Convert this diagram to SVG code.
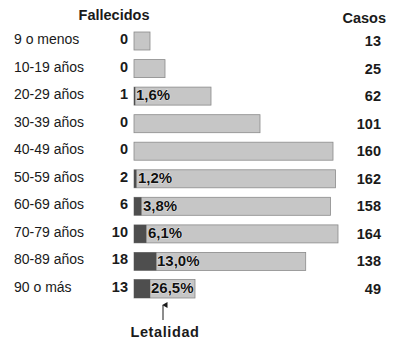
<svg xmlns="http://www.w3.org/2000/svg" width="398" height="343" viewBox="0 0 398 343">
<style>
text{font-family:"Liberation Sans",Arial,sans-serif;fill:#1a1a1a}
.lab{font-size:14px}
.num{font-size:14.5px;font-weight:bold}
.hd{font-size:14.5px;font-weight:bold}
.pct{font-size:15px;font-weight:bold;fill:#111;stroke:#fff;stroke-width:0.6;paint-order:stroke}
.bar{fill:#c6c6c6;stroke:#8a8a8a;stroke-width:0.8}
.dk{fill:#4e4e4e}
</style>
<defs>
<marker id="ah" viewBox="0 0 8 8" refX="4" refY="1" markerWidth="6" markerHeight="6" orient="auto-start-reverse">
<path d="M0,7 L4,0 L8,7 Z" fill="#1a1a1a"/>
</marker>
</defs>
<rect width="398" height="343" fill="#fff"/>
<text class="hd" x="114" y="20" text-anchor="middle">Fallecidos</text>
<text class="hd" x="386" y="23" text-anchor="end">Casos</text>

<g id="row-0"><text class="lab" x="14" y="44">9 o menos</text><text class="num" x="128" y="44" text-anchor="end">0</text><rect class="bar" x="134" y="32" width="16" height="18"/><text class="num" x="381" y="46" text-anchor="end">13</text></g>
<g id="row-1"><text class="lab" x="14" y="71.6">10-19 años</text><text class="num" x="128" y="71.6" text-anchor="end">0</text><rect class="bar" x="134" y="59.6" width="31" height="18"/><text class="num" x="381" y="73.6" text-anchor="end">25</text></g>
<g id="row-2"><text class="lab" x="14" y="99.1">20-29 años</text><text class="num" x="128" y="99.1" text-anchor="end">1</text><rect class="bar" x="134" y="87.1" width="77" height="18"/><rect class="dk" x="134" y="87.1" width="1.3" height="18"/><text class="pct" x="136" y="100">1,6%</text><text class="num" x="381" y="101.1" text-anchor="end">62</text></g>
<g id="row-3"><text class="lab" x="14" y="126.7">30-39 años</text><text class="num" x="128" y="126.7" text-anchor="end">0</text><rect class="bar" x="134" y="114.7" width="126" height="18"/><text class="num" x="381" y="128.7" text-anchor="end">101</text></g>
<g id="row-4"><text class="lab" x="14" y="154.2">40-49 años</text><text class="num" x="128" y="154.2" text-anchor="end">0</text><rect class="bar" x="134" y="142.2" width="199" height="18"/><text class="num" x="381" y="156.2" text-anchor="end">160</text></g>
<g id="row-5"><text class="lab" x="14" y="181.8">50-59 años</text><text class="num" x="128" y="181.8" text-anchor="end">2</text><rect class="bar" x="134" y="169.8" width="201.5" height="18"/><rect class="dk" x="134" y="169.8" width="2.5" height="18"/><text class="pct" x="138" y="183">1,2%</text><text class="num" x="381" y="183.8" text-anchor="end">162</text></g>
<g id="row-6"><text class="lab" x="14" y="209.3">60-69 años</text><text class="num" x="128" y="209.3" text-anchor="end">6</text><rect class="bar" x="134" y="197.3" width="196.5" height="18"/><rect class="dk" x="134" y="197.3" width="7.5" height="18"/><text class="pct" x="143" y="210.5">3,8%</text><text class="num" x="381" y="211.3" text-anchor="end">158</text></g>
<g id="row-7"><text class="lab" x="14" y="236.9">70-79 años</text><text class="num" x="128" y="236.9" text-anchor="end">10</text><rect class="bar" x="134" y="224.9" width="204" height="18"/><rect class="dk" x="134" y="224.9" width="12.4" height="18"/><text class="pct" x="148" y="238">6,1%</text><text class="num" x="381" y="238.9" text-anchor="end">164</text></g>
<g id="row-8"><text class="lab" x="14" y="264.4">80-89 años</text><text class="num" x="128" y="264.4" text-anchor="end">18</text><rect class="bar" x="134" y="252.4" width="171.7" height="18"/><rect class="dk" x="134" y="252.4" width="22.4" height="18"/><text class="pct" x="157" y="265.5">13,0%</text><text class="num" x="381" y="266.4" text-anchor="end">138</text></g>
<g id="row-9"><text class="lab" x="14" y="292">90 o más</text><text class="num" x="128" y="292" text-anchor="end">13</text><rect class="bar" x="134" y="279.5" width="61" height="18.5"/><rect class="dk" x="134" y="279.5" width="16.2" height="18.5"/><text class="pct" x="151" y="293">26,5%</text><text class="num" x="381" y="294" text-anchor="end">49</text></g>

<g id="connectors">
<line x1="163" y1="320" x2="163" y2="305" stroke="#1a1a1a" stroke-width="1" marker-end="url(#ah)"/>
</g>
<g id="letalidad"><text class="hd" x="165" y="337" text-anchor="middle" style="letter-spacing:0.6px">Letalidad</text></g>
</svg>
